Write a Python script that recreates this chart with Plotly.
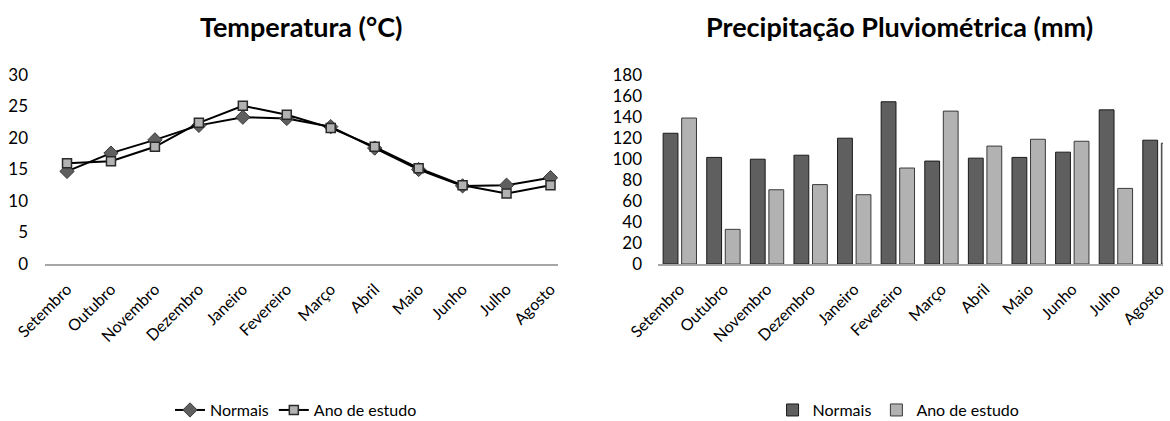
import plotly.graph_objects as go

# Meses do ano hidrológico (setembro a agosto)
meses = ["Setembro", "Outubro", "Novembro", "Dezembro", "Janeiro", "Fevereiro",
         "Março", "Abril", "Maio", "Junho", "Julho", "Agosto"]

# Temperatura média (°C)
temp_normais = [14.7, 17.6, 19.7, 22.0, 23.3, 23.1, 21.8, 18.4, 15.0, 12.4, 12.5, 13.7]
temp_ano = [16.0, 16.3, 18.6, 22.4, 25.1, 23.7, 21.6, 18.6, 15.2, 12.5, 11.2, 12.5]

# Precipitação pluviométrica (mm)
prec_normais = [124.5, 101.5, 99.8, 103.6, 119.8, 154.5, 98.0, 100.8, 101.5, 106.5, 146.8, 117.9]
prec_ano = [139.0, 33.0, 70.7, 75.6, 66.0, 91.4, 145.6, 112.3, 118.8, 116.9, 72.0, 115.0]

FONT = "Lato, Open Sans, sans-serif"
ESCURO = "#5f5f5f"
CLARO = "#b2b2b2"

fig = go.Figure()

# Gráfico de linhas: temperatura
fig.add_trace(go.Scatter(
    x=meses, y=temp_normais, name="Normais", mode="lines+markers",
    line=dict(color="#000000", width=2),
    marker=dict(symbol="diamond", size=11, color=ESCURO, line=dict(color="#3a3a3a", width=1)),
    xaxis="x", yaxis="y", legend="legend",
))
fig.add_trace(go.Scatter(
    x=meses, y=temp_ano, name="Ano de estudo", mode="lines+markers",
    line=dict(color="#000000", width=2),
    marker=dict(symbol="square", size=9, color=CLARO, line=dict(color="#2a2a2a", width=1.5)),
    xaxis="x", yaxis="y", legend="legend",
))

# Gráfico de colunas: precipitação
fig.add_trace(go.Bar(
    x=meses, y=prec_normais, name="Normais",
    marker=dict(color=ESCURO, line=dict(color="#1a1a1a", width=1)),
    xaxis="x2", yaxis="y2", legend="legend2",
))
fig.add_trace(go.Bar(
    x=meses, y=prec_ano, name="Ano de estudo",
    marker=dict(color=CLARO, line=dict(color="#3a3a3a", width=1)),
    xaxis="x2", yaxis="y2", legend="legend2",
))

eixo_x = dict(
    type="category", showgrid=False, zeroline=False, automargin=False,
    showline=True, linecolor="#a6a6a6", linewidth=1.5,
    ticks="", tickangle=-45, ticklabelstandoff=8,
    tickfont=dict(family=FONT, size=16, color="#000000"),
)
eixo_y = dict(
    showgrid=False, zeroline=False, showline=False, ticks="", automargin=False,
    tickfont=dict(family=FONT, size=17, color="#000000"),
    domain=[0.3729, 0.8219],
)

fig.update_layout(
    width=1170, height=421,
    margin=dict(l=0, r=0, t=0, b=0, autoexpand=False),
    paper_bgcolor="white", plot_bgcolor="white",
    barmode="group", bargap=0.15, bargroupgap=0.2,
    xaxis=dict(eixo_x, domain=[0.0385, 0.4769], range=[-0.5, 11.17]),
    yaxis=dict(eixo_y, range=[0, 30], dtick=5, anchor="x", ticklabelstandoff=16),
    xaxis2=dict(eixo_x, domain=[0.5624, 0.994], range=[-0.5, 11.08], anchor="y2"),
    yaxis2=dict(eixo_y, range=[0, 180], dtick=20, anchor="x2", ticklabelstandoff=15),
    legend=dict(orientation="h", x=0.253, xanchor="center", y=0.026, yanchor="middle",
                font=dict(family=FONT, size=16, color="#000000")),
    legend2=dict(orientation="h", x=0.768, xanchor="center", y=0.026, yanchor="middle",
                 font=dict(family=FONT, size=16, color="#000000")),
    annotations=[
        dict(text="<b>Temperatura (°C)</b>", x=0.257, y=0.936, xref="paper", yref="paper",
             xanchor="center", yanchor="middle", showarrow=False,
             font=dict(family=FONT, size=27, color="#000000")),
        dict(text="<b>Precipitação Pluviométrica (mm)</b>", x=0.769, y=0.936, xref="paper",
             yref="paper", xanchor="center", yanchor="middle", showarrow=False,
             font=dict(family=FONT, size=27, color="#000000")),
    ],
)

fig.write_html("out.html")
